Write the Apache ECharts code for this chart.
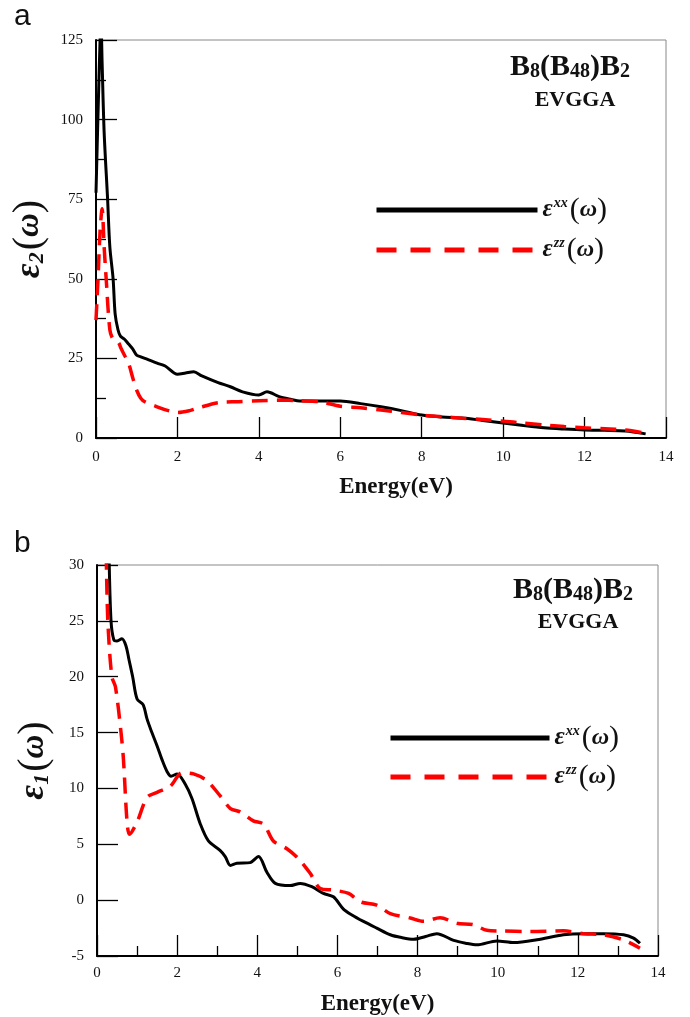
<!DOCTYPE html>
<html>
<head>
<meta charset="utf-8">
<script src="https://cdn.jsdelivr.net/npm/echarts@6/dist/echarts.min.js"></script>
<style>
html,body{margin:0;padding:0;background:#fff;}
#chart{width:690px;height:1017px;}
</style>
</head>
<body>
<div id="chart"></div>
<script>
// ---------- Data ----------
// Panel a: imaginary part eps2
const e2xxE = [0,0.05,0.1,0.12,0.15,0.2,0.285,0.34,0.42,0.47,0.54,0.6,0.7,0.8,0.9,1.0,1.1,1.2,1.5,1.7,2.0,2.2,2.4,2.6,3.0,3.3,3.6,4.0,4.2,4.5,4.8,5.0,5.5,6.0,6.5,7.0,7.5,8.0,8.5,9.0,9.5,10,10.5,11,11.5,12,12.5,13,13.5];
const e2xxV = [77,102,125,132,118,96,75,60,50,39,34,32,31,29.5,28,26,25.5,25,23.5,22.6,20,20.4,20.8,19.5,17.4,16.1,14.5,13.5,14.5,13,12.1,11.6,11.6,11.6,10.8,9.8,8.6,7.2,6.6,6.3,5.5,4.7,3.9,3.2,2.8,2.5,2.4,2.2,1.3];
const e2zzE = [0,0.05,0.1,0.15,0.2,0.25,0.34,0.42,0.55,0.62,0.7,0.8,0.9,1.0,1.1,1.2,1.5,1.8,2.0,2.3,2.5,3.0,3.5,4.0,4.5,5.0,5.5,6.0,6.5,7.0,7.5,8.0,8.5,9.0,9.5,10,10.5,11,11.5,12,12.5,13,13.5];
const e2zzV = [37,50,65,72,60,50,34,31,30,28,26,23.5,19,15,12.5,11.4,9.8,8.5,8,8.6,9.4,11.1,11.4,11.7,11.9,11.7,11.4,10,9.5,8.8,8,7.2,6.7,6.2,5.8,5.3,4.7,4.1,3.6,3.2,2.9,2.5,1.5];

// Panel b: real part eps1
const e1xxE = [0.3,0.35,0.42,0.5,0.62,0.72,0.8,0.89,1.0,1.15,1.25,1.37,1.5,1.62,1.75,1.85,2.0,2.2,2.37,2.58,2.78,3.07,3.2,3.33,3.49,3.82,4.03,4.24,4.45,4.82,5.07,5.36,5.65,5.9,6.15,6.35,6.65,6.98,7.32,7.6,7.9,8.2,8.48,8.9,9.2,9.48,9.98,10.4,10.98,11.64,12.14,12.64,13.14,13.39,13.55];
const e1xxV = [31,25,23.3,23.2,23.4,22.8,21.5,20,18,17.5,16.2,15,13.8,12.6,11.5,11.1,11.3,10.4,9.1,6.8,5.3,4.45,3.9,3.1,3.3,3.36,3.9,2.5,1.5,1.3,1.5,1.2,0.6,0.3,-0.8,-1.3,-1.9,-2.5,-3.1,-3.35,-3.5,-3.25,-3.0,-3.6,-3.85,-4.0,-3.65,-3.8,-3.55,-3.1,-3.0,-3.0,-3.1,-3.4,-3.86];
const e1zzE = [0.23,0.27,0.37,0.46,0.6,0.66,0.75,0.81,1.0,1.25,1.5,1.83,2.12,2.41,2.74,3.07,3.33,3.57,3.9,4.16,4.4,4.74,5.03,5.32,5.57,5.9,6.28,6.57,6.98,7.32,7.82,8.15,8.56,8.98,9.39,9.73,10.06,10.8,11.64,12.14,12.64,13.14,13.55];
const e1zzV = [31,25,20,19.1,15,12.6,7,5.9,7,9.2,9.65,10.2,11.4,11.3,10.7,9.35,8.2,7.9,7.1,6.8,5.3,4.6,3.7,2.4,1.04,0.9,0.6,-0.15,-0.45,-1.2,-1.6,-1.9,-1.57,-2.07,-2.2,-2.7,-2.76,-2.8,-2.75,-3.0,-3.1,-3.56,-4.3];

const seriesNames = ['εxx(ω)', 'εzz(ω)'];
const xTicks = [0,14,2];      // min, max, interval (Energy, eV)
const y2Ticks = [0,125,25];   // panel a
const y1Ticks = [-5,30,5];    // panel b

function pairs(xs, ys){ return xs.map((x,i)=>[x, ys[i]]); }

const SERIF = '"Liberation Serif","Times New Roman",serif';
const BLACK = '#000';
const RED = '#ff0000';

const legendRich = {
  e:{fontFamily:SERIF,fontStyle:'italic',fontWeight:'bold',fontSize:25,lineHeight:28,color:'#111'},
  s:{fontFamily:SERIF,fontStyle:'italic',fontWeight:'bold',fontSize:14,lineHeight:28,verticalAlign:'top',padding:[0,2,0,1],color:'#111'},
  p:{fontFamily:SERIF,fontSize:30,lineHeight:28,color:'#111'},
  w:{fontFamily:SERIF,fontStyle:'italic',fontWeight:'bold',fontSize:24,lineHeight:28,color:'#111'}
};
function legendFmt(name){
  const sup = name.indexOf('xx')>=0 ? 'xx' : 'zz';
  return '{e|ε}{s|'+sup+'}{p|(}{w|ω}{p|)}';
}

function xAxisCfg(gridIndex, minor){
  return {
    type:'value', gridIndex:gridIndex, min:xTicks[0], max:xTicks[1], interval:xTicks[2],
    name:'Energy(eV)', nameLocation:'middle', nameGap: gridIndex===0 ? 37 : 36,
    nameTextStyle:{fontFamily:SERIF,fontWeight:'bold',fontSize:23,color:'#111',lineHeight:24,
      padding: gridIndex===0 ? [0,0,0,30] : [0,0,0,0]},
    axisLine:{show:true,onZero:false,lineStyle:{color:BLACK,width:2}},
    axisTick:{show:true,inside:true,length:21,lineStyle:{color:BLACK,width:1.3}},
    minorTick:{show:minor,splitNumber:2,length:10,lineStyle:{color:BLACK,width:1.3}},
    axisLabel:{fontFamily:SERIF,fontSize:15,color:'#111',margin: gridIndex===0 ? 12 : 10},
    splitLine:{show:false}, minorSplitLine:{show:false}
  };
}
function yAxisCfg(gridIndex, t, minor, sub){
  return {
    type:'value', gridIndex:gridIndex, min:t[0], max:t[1], interval:t[2],
    name:'{e|ε}{s|'+sub+'}{p|(}{w|ω}{p|)}', nameLocation:'middle', nameRotate:90, nameGap:44,
    nameTextStyle:{rich:{
      e:{fontFamily:SERIF,fontStyle:'italic',fontWeight:'bold',fontSize:36,lineHeight:38,color:'#111'},
      s:{fontFamily:SERIF,fontStyle:'italic',fontWeight:'bold',fontSize:22,lineHeight:38,verticalAlign:'bottom',padding:[0,2,0,0],color:'#111'},
      p:{fontFamily:SERIF,fontSize:40,lineHeight:38,color:'#111'},
      w:{fontFamily:SERIF,fontStyle:'italic',fontWeight:'bold',fontSize:33,lineHeight:38,color:'#111'}
    }},
    axisLine:{show:true,onZero:false,lineStyle:{color:BLACK,width:2}},
    axisTick:{show:true,inside:true,length:21,lineStyle:{color:BLACK,width:1.3}},
    minorTick:{show:minor,splitNumber:2,length:10,lineStyle:{color:BLACK,width:1.3}},
    axisLabel:{fontFamily:SERIF,fontSize:15,color:'#111',margin:13},
    splitLine:{show:false}, minorSplitLine:{show:false}
  };
}

function annot(cx, y1, y2){
  return [
    {type:'text', x:cx, y:y1, style:{
      text:'{b|B}{n|8}{b|(B}{n|48}{b|)B}{n|2}', align:'center', verticalAlign:'middle',
      rich:{
        b:{fontFamily:SERIF,fontWeight:'bold',fontSize:30,lineHeight:30,fill:'#111'},
        n:{fontFamily:SERIF,fontWeight:'bold',fontSize:20,lineHeight:30,verticalAlign:'bottom',fill:'#111'}
      }}},
    {type:'text', x:cx+5, y:y2, style:{text:'EVGGA', align:'center', verticalAlign:'middle',
      font:'bold 22px '+SERIF, fill:'#111'}}
  ];
}

const option = {
  animation:false,
  backgroundColor:'#fff',
  grid:[
    {left:96, top:40, right:24, bottom:579, show:true, borderColor:'#888', borderWidth:1},
    {left:97, top:565, right:32, bottom:59, show:true, borderColor:'#888', borderWidth:1}
  ],
  xAxis:[ xAxisCfg(0,false), xAxisCfg(1,true) ],
  yAxis:[ yAxisCfg(0,y2Ticks,true,'2'), yAxisCfg(1,y1Ticks,false,'1') ],
  legend:[
    {left:374, top:195, orient:'vertical', padding:0, itemWidth:161, itemHeight:5, itemGap:10,
     selectedMode:false, formatter:legendFmt, textStyle:{rich:legendRich},
     data:[
       {name:seriesNames[0], lineStyle:{width:5,color:BLACK,type:'solid'}},
       {name:seriesNames[1], lineStyle:{width:5,color:RED,type:[20,14]}}
     ]},
    {left:388, top:723, orient:'vertical', padding:0, itemWidth:159, itemHeight:5, itemGap:9,
     selectedMode:false, formatter:legendFmt, textStyle:{rich:legendRich},
     data:[
       {name:seriesNames[0], lineStyle:{width:5,color:BLACK,type:'solid'}},
       {name:seriesNames[1], lineStyle:{width:5,color:RED,type:[20,14]}}
     ]}
  ],
  graphic:[
    {type:'text', x:14, y:17, style:{text:'a', font:'30px "Liberation Sans",Arial,sans-serif', fill:'#111', verticalAlign:'middle'}},
    {type:'text', x:14, y:544, style:{text:'b', font:'30px "Liberation Sans",Arial,sans-serif', fill:'#111', verticalAlign:'middle'}}
  ].concat(annot(570,67,100)).concat(annot(573,590,622)),
  series:[
    {name:seriesNames[0], type:'line', xAxisIndex:0, yAxisIndex:0, data:pairs(e2xxE,e2xxV),
     symbol:'none', smooth:0.3, clip:true, lineStyle:{color:BLACK,width:3}, itemStyle:{color:BLACK}, z:3},
    {name:seriesNames[1], type:'line', xAxisIndex:0, yAxisIndex:0, data:pairs(e2zzE,e2zzV),
     symbol:'none', smooth:0.3, clip:true, lineStyle:{color:RED,width:3.5,type:[16,9]}, itemStyle:{color:RED}, z:4},
    {name:seriesNames[0], type:'line', xAxisIndex:1, yAxisIndex:1, data:pairs(e1xxE,e1xxV),
     symbol:'none', smooth:0.3, clip:true, lineStyle:{color:BLACK,width:3}, itemStyle:{color:BLACK}, z:3},
    {name:seriesNames[1], type:'line', xAxisIndex:1, yAxisIndex:1, data:pairs(e1zzE,e1zzV),
     symbol:'none', smooth:0.3, clip:true, lineStyle:{color:RED,width:3.5,type:[16,9]}, itemStyle:{color:RED}, z:4}
  ]
};

const chart = echarts.init(document.getElementById('chart'), null, {renderer:'canvas'});
chart.setOption(option);
</script>
</body>
</html>
